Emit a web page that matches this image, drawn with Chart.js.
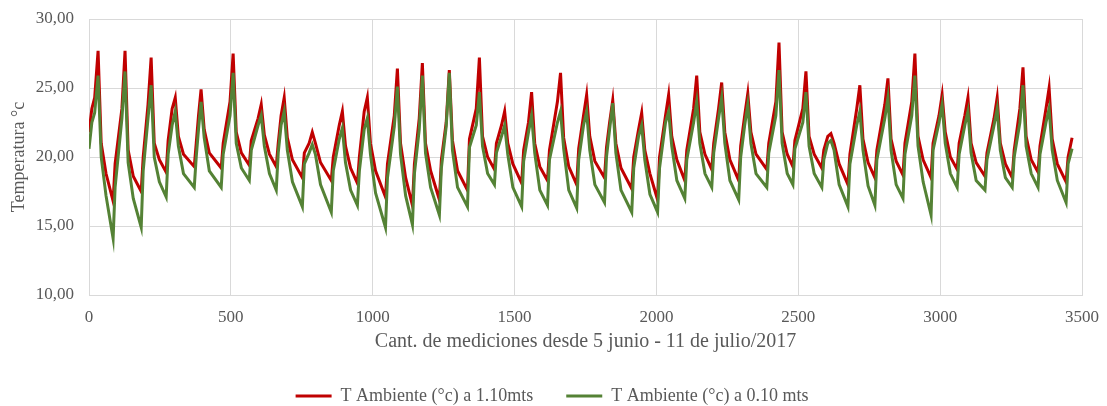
<!DOCTYPE html>
<html>
<head>
<meta charset="utf-8">
<script src="https://cdn.jsdelivr.net/npm/chart.js@4/dist/chart.umd.min.js"></script>
<style>
  html, body { margin: 0; padding: 0; background: #fff; }
  #wrap { width: 1107px; height: 406px; }
</style>
</head>
<body>
<div id="wrap"><canvas id="grafico"></canvas></div>
<script>
// numero de medicion (puntos clave de cada ciclo diario)
const mediciones = [0, 10, 20, 32, 43, 60,
  85, 92, 116, 127, 138, 156,
  184, 191, 208, 219, 230, 248,
  272, 279, 293, 304, 315, 333,
  371, 378, 386, 395, 406, 424,
  466, 473, 497, 508, 519, 537,
  565, 572, 596, 607, 618, 636,
  660, 667, 677, 688, 699, 717,
  752, 759, 776, 787, 798, 816,
  854, 861, 882, 893, 904, 922,
  946, 953, 970, 981, 992, 1010,
  1045, 1052, 1076, 1087, 1098, 1116,
  1140, 1147, 1164, 1175, 1186, 1204,
  1235, 1242, 1259, 1270, 1281, 1299,
  1334, 1341, 1365, 1376, 1387, 1405,
  1429, 1436, 1454, 1465, 1476, 1494,
  1525, 1532, 1549, 1560, 1571, 1589,
  1616, 1623, 1651, 1662, 1673, 1691,
  1719, 1726, 1743, 1754, 1765, 1783,
  1817, 1824, 1835, 1846, 1857, 1875,
  1913, 1920, 1937, 1948, 1959, 1977,
  2004, 2011, 2032, 2043, 2054, 2072,
  2100, 2107, 2131, 2142, 2153, 2171,
  2195, 2202, 2219, 2230, 2241, 2259,
  2290, 2297, 2311, 2322, 2333, 2351,
  2389, 2396, 2421, 2432, 2443, 2461,
  2481, 2488, 2516, 2527, 2538, 2556,
  2583, 2590, 2604, 2615, 2626, 2644,
  2675, 2682, 2706, 2717, 2728, 2746,
  2770, 2777, 2805, 2816, 2827, 2845,
  2869, 2876, 2900, 2911, 2922, 2940,
  2968, 2975, 2996, 3007, 3018, 3036,
  3060, 3067, 3087, 3098, 3109, 3127,
  3158, 3165, 3190, 3201, 3212, 3230,
  3254, 3261, 3281, 3292, 3303, 3321,
  3345, 3352, 3373, 3384, 3395, 3413,
  3444, 3451, 3465];

// T Ambiente a 1.10 mts
const tAlta = [21.8, 23.5, 24.3, 27.7, 21.0, 18.8,
  16.8, 19.5, 23.5, 27.7, 20.5, 18.6,
  17.5, 20.0, 23.8, 27.2, 21.0, 19.8,
  18.9, 21.2, 23.5, 24.3, 21.5, 20.2,
  19.3, 21.0, 23.0, 24.9, 22.0, 20.3,
  19.2, 21.0, 24.0, 27.5, 21.8, 20.3,
  19.4, 21.2, 22.8, 23.8, 21.6, 20.2,
  19.3, 21.0, 23.0, 24.3, 21.4, 19.8,
  18.5, 20.3, 21.0, 21.8, 21.0, 19.6,
  18.3, 20.0, 22.3, 23.3, 20.8, 19.2,
  18.1, 20.0, 23.3, 24.3, 21.0, 19.0,
  17.1, 19.5, 23.0, 26.4, 21.0, 18.5,
  16.5, 19.5, 22.8, 26.8, 21.0, 19.0,
  16.9, 19.8, 22.5, 26.3, 21.2, 19.0,
  17.6, 21.3, 23.5, 27.2, 21.5, 20.0,
  19.1, 21.0, 22.3, 23.3, 21.0, 19.5,
  18.1, 20.5, 22.5, 24.7, 21.0, 19.3,
  18.3, 20.5, 24.0, 26.1, 21.4, 19.3,
  18.0, 20.6, 23.0, 24.5, 21.5, 19.7,
  18.5, 20.7, 22.5, 24.1, 21.0, 19.2,
  17.7, 20.0, 22.0, 23.2, 20.5, 18.8,
  16.9, 20.0, 23.0, 24.5, 21.5, 19.8,
  18.3, 20.5, 23.5, 25.9, 21.8, 20.2,
  19.1, 21.0, 23.5, 25.4, 21.8, 19.8,
  18.3, 20.8, 23.0, 24.6, 21.8, 20.2,
  19.1, 21.0, 24.0, 28.3, 21.8, 20.2,
  19.3, 21.2, 23.5, 26.2, 21.5, 20.2,
  19.2, 20.5, 21.5, 21.7, 21.0, 19.5,
  18.0, 20.2, 23.5, 25.2, 21.3, 19.6,
  18.5, 20.5, 23.8, 25.7, 21.3, 19.7,
  18.7, 21.0, 24.0, 27.5, 21.5, 19.8,
  18.5, 21.0, 23.0, 24.5, 21.8, 20.0,
  19.1, 21.0, 23.0, 24.3, 21.0, 19.6,
  18.6, 20.3, 22.8, 24.3, 21.0, 19.5,
  18.5, 20.5, 23.5, 26.5, 21.5, 19.8,
  18.9, 20.8, 23.5, 25.0, 21.3, 19.5,
  18.2, 20.0, 21.4];

// T Ambiente a 0.10 mts
const tBaja = [20.6, 22.5, 23.2, 25.9, 20.0, 17.2,
  14.1, 17.8, 22.8, 26.2, 19.6, 17.0,
  14.9, 19.0, 22.8, 25.2, 20.0, 18.2,
  17.1, 20.2, 22.3, 23.3, 20.8, 18.8,
  17.8, 20.0, 22.0, 24.0, 21.4, 19.0,
  17.8, 20.2, 23.0, 26.1, 21.0, 19.2,
  18.3, 20.5, 22.3, 23.0, 20.8, 18.8,
  17.6, 20.3, 22.3, 23.3, 20.5, 18.2,
  16.4, 19.5, 20.3, 20.9, 20.2, 18.0,
  16.0, 19.0, 21.3, 22.1, 19.6, 17.6,
  16.5, 19.0, 22.0, 22.8, 20.2, 17.4,
  14.9, 18.5, 22.2, 25.1, 20.2, 17.2,
  15.1, 18.8, 22.0, 25.9, 20.3, 17.8,
  15.8, 19.2, 22.2, 26.1, 20.5, 17.8,
  16.4, 20.7, 22.3, 24.7, 20.8, 18.8,
  18.0, 20.3, 21.5, 22.3, 20.2, 17.8,
  16.4, 19.7, 21.8, 23.0, 20.3, 17.6,
  16.5, 19.8, 22.5, 23.3, 20.6, 17.6,
  16.3, 19.8, 22.3, 23.3, 20.5, 18.0,
  16.7, 20.0, 22.0, 23.9, 20.3, 17.6,
  16.0, 19.2, 21.5, 22.3, 19.8, 17.3,
  16.0, 19.2, 22.5, 23.3, 20.8, 18.3,
  17.0, 19.8, 22.5, 24.0, 21.0, 18.8,
  17.8, 20.3, 22.8, 24.3, 21.0, 18.3,
  16.9, 20.0, 22.3, 23.8, 21.0, 18.8,
  17.8, 20.3, 23.0, 26.3, 21.0, 18.8,
  18.0, 20.6, 22.5, 24.7, 20.8, 18.8,
  17.8, 19.8, 21.0, 21.2, 20.5, 18.0,
  16.4, 19.5, 22.3, 23.3, 20.5, 17.9,
  16.5, 19.8, 22.8, 24.3, 20.5, 18.0,
  17.0, 20.2, 23.0, 25.9, 20.8, 18.2,
  15.8, 20.5, 22.5, 23.8, 21.0, 18.8,
  17.8, 20.2, 22.3, 23.3, 20.3, 18.3,
  17.6, 19.8, 22.3, 23.5, 20.5, 18.5,
  17.8, 20.0, 22.5, 25.2, 20.8, 18.8,
  17.8, 20.2, 22.5, 23.5, 20.5, 18.3,
  16.7, 19.5, 20.6];

const nombres = ['T Ambiente (°c) a 1.10mts', 'T Ambiente (°c) a 0.10 mts'];
const colores = ['#C00000', '#548235'];

const gris = '#595959';
const fuente = 'Liberation Serif, Times New Roman, serif';

function puntos(valores) {
    return mediciones.map((m, i) => ({ x: m, y: valores[i] }));
}

const ctx = document.getElementById('grafico').getContext('2d');

new Chart(ctx, {
    type: 'line',
    data: {
        datasets: [{
            label: nombres[0],
            data: puntos(tAlta),
            borderColor: colores[0],
            backgroundColor: colores[0],
            borderWidth: 3,
            pointRadius: 0,
            tension: 0,
            order: 2
        }, {
            label: nombres[1],
            data: puntos(tBaja),
            borderColor: colores[1],
            backgroundColor: colores[1],
            borderWidth: 3,
            pointRadius: 0,
            tension: 0,
            order: 1
        }]
    },
    options: {
        responsive: true,
        maintainAspectRatio: false,
        animation: false,
        layout: {
            padding: { top: 19, right: 25, bottom: -9, left: 22 }
        },
        plugins: {
            tooltip: { enabled: false },
            legend: {
                position: 'bottom',
                labels: {
                    color: gris,
                    font: { family: fuente, size: 18 },
                    usePointStyle: true,
                    pointStyle: 'line',
                    pointStyleWidth: 36,
                    padding: 33,
                    sort: (a, b) => a.datasetIndex - b.datasetIndex
                }
            }
        },
        scales: {
            x: {
                type: 'linear',
                min: 0,
                max: 3500,
                afterFit: (scale) => {
                    scale.height = 59;
                    scale.paddingLeft = 0;
                    scale.paddingRight = 0;
                },
                grid: { color: '#d9d9d9', drawTicks: false },
                border: { color: '#d9d9d9' },
                ticks: {
                    stepSize: 500,
                    padding: 12,
                    color: gris,
                    font: { family: fuente, size: 17 },
                    maxRotation: 0,
                    callback: (v) => String(v)
                },
                title: {
                    display: true,
                    text: 'Cant. de mediciones desde 5 junio - 11 de julio/2017',
                    color: gris,
                    font: { family: fuente, size: 20 },
                    padding: { top: 0, bottom: 0 }
                }
            },
            y: {
                min: 10,
                max: 30,
                afterFit: (scale) => {
                    scale.width = 67;
                    scale.paddingTop = 10;
                    scale.paddingBottom = 10;
                },
                grid: { color: '#d9d9d9', drawTicks: false },
                border: { color: '#d9d9d9' },
                ticks: {
                    stepSize: 5,
                    padding: 15,
                    color: gris,
                    font: { family: fuente, size: 17 },
                    callback: (v) => v.toFixed(2).replace('.', ',')
                },
                title: {
                    display: true,
                    text: 'Temperatura °c',
                    color: gris,
                    font: { family: fuente, size: 18 },
                    padding: { top: -14, bottom: 0 }
                }
            }
        }
    }
});
</script>
</body>
</html>
